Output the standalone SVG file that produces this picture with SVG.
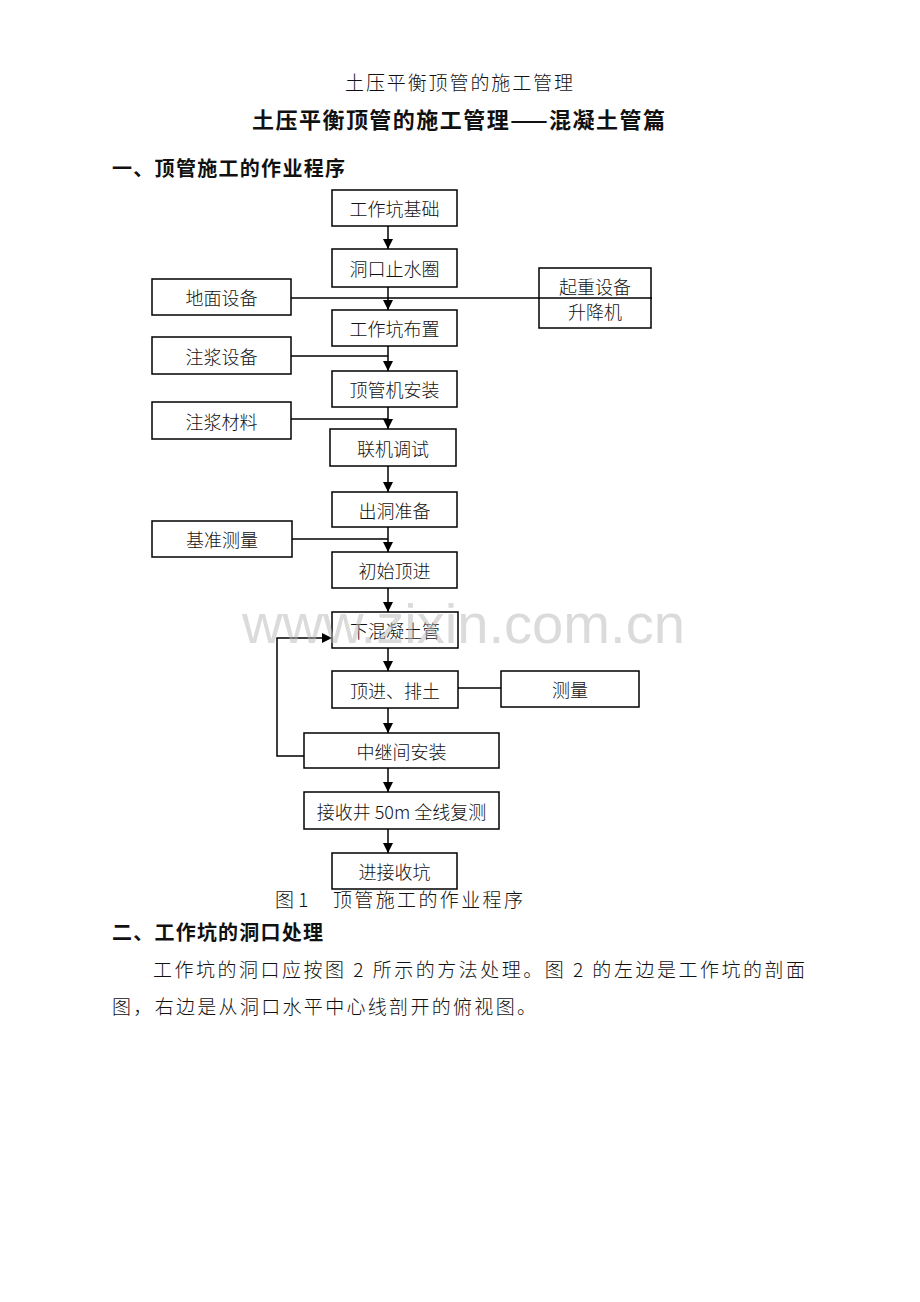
<svg xmlns="http://www.w3.org/2000/svg" width="920" height="1302" viewBox="0 0 920 1302">
<style>
.bg{fill:#ffffff}
.box{fill:#ffffff;stroke:#000;stroke-width:1.5}
.lbl{font-family:"Noto Sans CJK SC","Liberation Serif",serif;font-size:18px;font-weight:300;fill:#111;text-anchor:middle;dominant-baseline:central}
.con{fill:none;stroke:#000;stroke-width:1.5}
.txt{font-family:"Noto Sans CJK SC","Liberation Serif",serif;font-weight:300;fill:#111;dominant-baseline:central}
.bold{font-weight:bold}
.wm{font-family:"Liberation Sans",Arial,sans-serif;font-size:56px;fill:#b8b8b8;fill-opacity:0.5}
</style>
<defs>
<marker id="ah" markerWidth="10" markerHeight="10" refX="10" refY="5" orient="auto" markerUnits="userSpaceOnUse">
<path d="M0,0 L10,5 L0,10 z" fill="#000"/>
</marker>
</defs>
<rect class="bg" x="0" y="0" width="920" height="1302"/>

<text class="txt" x="345" y="81" font-size="19" textLength="228" lengthAdjust="spacing">土压平衡顶管的施工管理</text>
<text class="txt bold" x="252" y="118" font-size="22" textLength="413" lengthAdjust="spacing">土压平衡顶管的施工管理——混凝土管篇</text>
<text class="txt bold" x="112" y="167" font-size="20" textLength="233" lengthAdjust="spacing">一、顶管施工的作业程序</text>

<g id="connectors">
<line class="con" x1="388" y1="226" x2="388" y2="249" marker-end="url(#ah)"/>
<line class="con" x1="388" y1="287" x2="388" y2="310" marker-end="url(#ah)"/>
<line class="con" x1="388" y1="346" x2="388" y2="371" marker-end="url(#ah)"/>
<line class="con" x1="291" y1="356" x2="388" y2="356"/>
<line class="con" x1="388" y1="407" x2="388" y2="429" marker-end="url(#ah)"/>
<line class="con" x1="291" y1="419" x2="388" y2="419"/>
<line class="con" x1="388" y1="466" x2="388" y2="492" marker-end="url(#ah)"/>
<line class="con" x1="388" y1="527" x2="388" y2="552" marker-end="url(#ah)"/>
<line class="con" x1="292" y1="539" x2="388" y2="539"/>
<line class="con" x1="388" y1="588" x2="388" y2="612" marker-end="url(#ah)"/>
<line class="con" x1="388" y1="648" x2="388" y2="671" marker-end="url(#ah)"/>
<line class="con" x1="458" y1="688" x2="501" y2="688"/>
<line class="con" x1="388" y1="708" x2="388" y2="733" marker-end="url(#ah)"/>
<polyline class="con" points="304,756 277,756 277,638 332,638" marker-end="url(#ah)"/>
<line class="con" x1="388" y1="768" x2="388" y2="792" marker-end="url(#ah)"/>
<line class="con" x1="388" y1="829" x2="388" y2="853" marker-end="url(#ah)"/>
</g>

<g id="n1"><rect class="box" x="332" y="190" width="125" height="36"/><text class="lbl" x="394.5" y="208">工作坑基础</text></g>
<g id="n2"><rect class="box" x="332" y="249" width="125" height="38"/><text class="lbl" x="394.5" y="268">洞口止水圈</text></g>
<g id="n_dimian"><rect class="box" x="152" y="279" width="139" height="36"/><text class="lbl" x="221.5" y="297">地面设备</text></g>
<g id="n_qizhong"><rect class="box" x="539" y="268" width="112" height="60"/><text class="lbl" x="595" y="286">起重设备</text><text class="lbl" x="595" y="311">升降机</text></g>
<line class="con" x1="291" y1="298" x2="652" y2="298"/>
<g id="n3"><rect class="box" x="332" y="310" width="125" height="36"/><text class="lbl" x="394.5" y="328">工作坑布置</text></g>
<g id="n_zjsb"><rect class="box" x="152" y="337" width="139" height="37"/><text class="lbl" x="221.5" y="355.5">注浆设备</text></g>
<g id="n4"><rect class="box" x="332" y="371" width="125" height="36"/><text class="lbl" x="394.5" y="389">顶管机安装</text></g>
<g id="n_zjcl"><rect class="box" x="152" y="402" width="139" height="37"/><text class="lbl" x="221.5" y="420.5">注浆材料</text></g>
<g id="n5"><rect class="box" x="330" y="429" width="126" height="37"/><text class="lbl" x="393" y="447.5">联机调试</text></g>
<g id="n6"><rect class="box" x="332" y="492" width="125" height="35"/><text class="lbl" x="394.5" y="509.5">出洞准备</text></g>
<g id="n_jzcl"><rect class="box" x="152" y="521" width="140" height="36"/><text class="lbl" x="222" y="539">基准测量</text></g>
<g id="n7"><rect class="box" x="332" y="552" width="125" height="36"/><text class="lbl" x="394.5" y="570">初始顶进</text></g>
<g id="n8"><rect class="box" x="332" y="612" width="126" height="36"/><text class="lbl" x="395" y="630">下混凝土管</text></g>
<g id="n9"><rect class="box" x="332" y="671" width="126" height="37"/><text class="lbl" x="395" y="689.5">顶进、排土</text></g>
<g id="n_cl"><rect class="box" x="501" y="671" width="138" height="36"/><text class="lbl" x="570" y="689">测量</text></g>
<g id="n10"><rect class="box" x="304" y="733" width="195" height="35"/><text class="lbl" x="401.5" y="750.5">中继间安装</text></g>
<g id="n11"><rect class="box" x="304" y="792" width="195" height="37"/><text class="lbl" x="401.5" y="810.5">接收井 50m 全线复测</text></g>
<g id="n12"><rect class="box" x="332" y="853" width="125" height="36"/><text class="lbl" x="394.5" y="871">进接收坑</text></g>

<text class="txt" y="898" font-size="19"><tspan x="275">图 1</tspan><tspan x="333" textLength="190" lengthAdjust="spacing">顶管施工的作业程序</tspan></text>

<text class="txt bold" x="112" y="931" font-size="20" textLength="211" lengthAdjust="spacing">二、工作坑的洞口处理</text>
<text class="txt" x="153" y="968" font-size="19" textLength="652" lengthAdjust="spacing">工作坑的洞口应按图 2 所示的方法处理。图 2 的左边是工作坑的剖面</text>
<text class="txt" x="112" y="1005" font-size="19" textLength="424" lengthAdjust="spacing">图，右边是从洞口水平中心线剖开的俯视图。</text>

<text class="wm" x="242" y="643" textLength="443" lengthAdjust="spacingAndGlyphs">www.zixin.com.cn</text>
</svg>
